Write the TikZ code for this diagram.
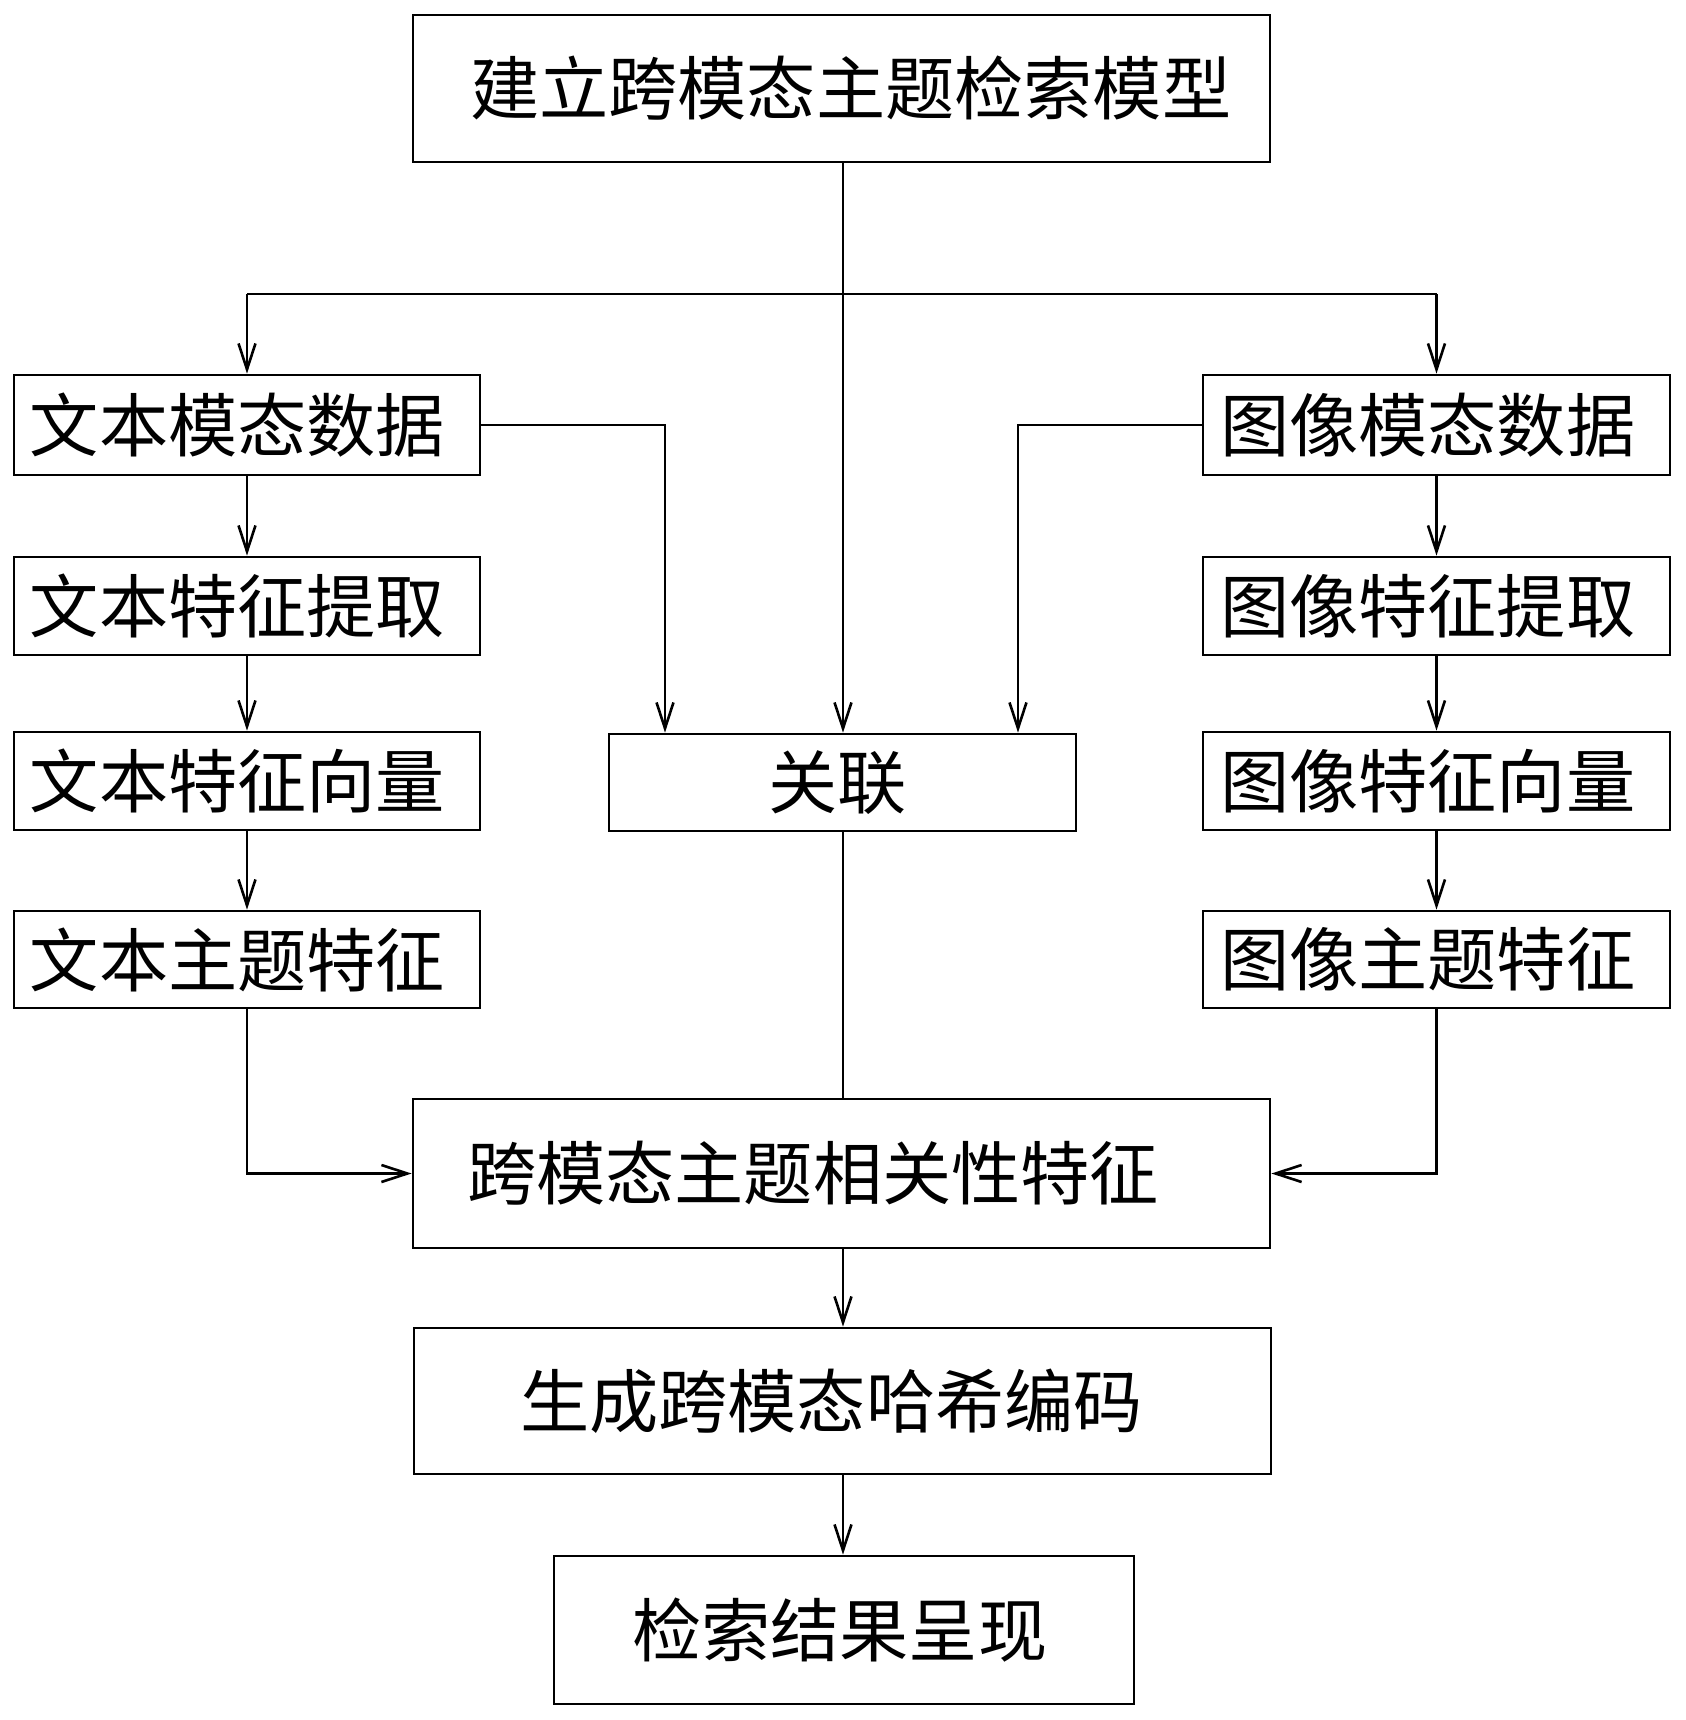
\documentclass[tikz,border=0pt]{standalone}
\usepackage{fontspec}
\newfontfamily\cjk{Noto Sans CJK SC}
\usetikzlibrary{arrows.meta}
\newcommand\bxt[3]{\makebox[#1pt][l]{\hspace{#2pt}#3}}
\begin{document}
\begin{tikzpicture}[x=0.5pt,y=-0.5pt,
  box/.style={draw, line width=1.4pt, inner sep=0pt, font=\cjk\fontsize{34.6pt}{40pt}\selectfont},
  arr/.style={-{Straight Barb[length=13pt,width=8.5pt]}, line width=1.3pt},
  ln/.style={line width=1.3pt}]
\useasboundingbox (0,0) rectangle (1686,1720);
\fill[white] (0,0) rectangle (1686,1720);
% nodes
\node[box, minimum height=73.5pt] (top) at (841.5,88.5) {\bxt{428.5}{28.5}{建立跨模态主题检索模型}};
\node[box, minimum height=50pt] (t1) at (247,425) {\bxt{233}{8}{文本模态数据}};
\node[box, minimum height=49pt] (t2) at (247,606) {\bxt{233}{8}{文本特征提取}};
\node[box, minimum height=49pt] (t3) at (247,781) {\bxt{233}{8}{文本特征向量}};
\node[box, minimum height=48.5pt] (t4) at (247,959.5) {\bxt{233}{8}{文本主题特征}};
\node[box, minimum height=50pt] (i1) at (1436.5,425) {\bxt{233.5}{8.5}{图像模态数据}};
\node[box, minimum height=49pt] (i2) at (1436.5,606) {\bxt{233.5}{8.5}{图像特征提取}};
\node[box, minimum height=49pt] (i3) at (1436.5,781) {\bxt{233.5}{8.5}{图像特征向量}};
\node[box, minimum height=48.5pt] (i4) at (1436.5,959.5) {\bxt{233.5}{8.5}{图像主题特征}};
\node[box, minimum height=48.5pt] (gl) at (842.5,782.5) {\bxt{233.5}{79.5}{关联}};
\node[box, minimum height=74.5pt] (kua) at (841.5,1173.5) {\bxt{428.5}{27}{跨模态主题相关性特征}};
\node[box, minimum height=73pt] (gen) at (842.5,1401) {\bxt{428.5}{53}{生成跨模态哈希编码}};
\node[box, minimum height=74pt] (res) at (844,1630) {\bxt{290}{39}{检索结果呈现}};
% helper coordinates
\coordinate (split) at (843,294);
\coordinate (cx) at (843,0);
\coordinate (gla) at (665,0);
\coordinate (glb) at (1018,0);
% connectors
\draw[arr] (cx |- top.south) -- (cx |- gl.north);
\draw[ln] (t1.north |- split) -- (i1.north |- split);
\draw[arr] (t1.north |- split) -- (t1.north);
\draw[arr] (i1.north |- split) -- (i1.north);
\draw[arr] (t1.east) -| (gla |- gl.north);
\draw[arr] (i1.west) -| (glb |- gl.north);
\draw[arr] (t1) -- (t2);
\draw[arr] (t2) -- (t3);
\draw[arr] (t3) -- (t4);
\draw[arr] (i1) -- (i2);
\draw[arr] (i2) -- (i3);
\draw[arr] (i3) -- (i4);
\draw[ln] (cx |- gl.south) -- (cx |- kua.north);
\draw[arr] (t4.south) |- (kua.west);
\draw[arr] (i4.south) |- (kua.east);
\draw[arr] (cx |- kua.south) -- (cx |- gen.north);
\draw[arr] (cx |- gen.south) -- (cx |- res.north);
\end{tikzpicture}
\end{document}
